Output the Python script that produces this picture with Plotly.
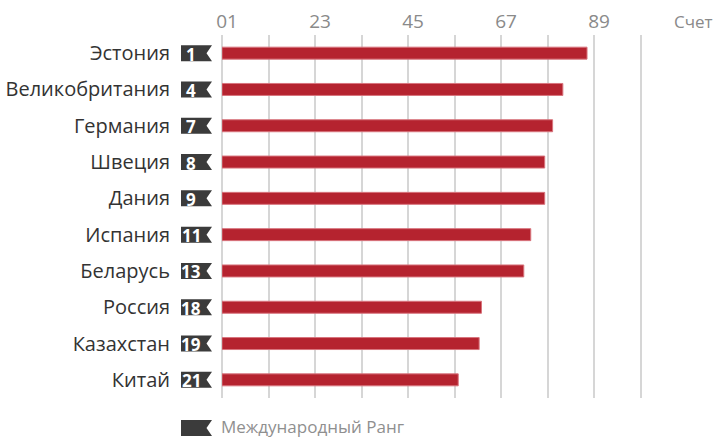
import plotly.graph_objects as go

countries = ["Эстония", "Великобритания", "Германия", "Швеция", "Дания",
             "Испания", "Беларусь", "Россия", "Казахстан", "Китай"]
ranks = [1, 4, 7, 8, 9, 11, 13, 18, 19, 21]
scores = [78.5, 73.3, 71.1, 69.4, 69.4, 66.4, 64.9, 55.8, 55.3, 50.8]

grid_vals = [0, 10, 20, 30, 40, 50, 60, 70, 80, 90]
grid_text = ["01", "", "23", "", "45", "", "67", "", "89", ""]
axis_title = "Счет"
legend_text = "Международный Ранг"

BAR = "#b5232f"
BADGE = "#3b3b3b"
FONT = "Open Sans"

fig = go.Figure()
fig.add_trace(go.Bar(
    x=scores, y=countries, orientation="h", width=0.33,
    marker=dict(color=BAR, line=dict(color="#d8747d", width=1)),
    hoverinfo="x+y",
))

badge_path = "M -41,8 L -10,8 L -15.5,0 L -10,-8 L -41,-8 Z"
shapes = []
annotations = []
for i, (c, r) in enumerate(zip(countries, ranks)):
    shapes.append(dict(type="path", xref="paper", yref="y",
                       xsizemode="pixel", ysizemode="pixel",
                       xanchor=0, yanchor=i, path=badge_path,
                       fillcolor=BADGE, line=dict(width=0), layer="above"))
    annotations.append(dict(xref="paper", yref="y", x=0, y=c, xshift=-31,
                            yshift=-1,
                            text=f"<b>{r}</b>", showarrow=False,
                            font=dict(family=FONT, size=17, color="white"),
                            xanchor="center", yanchor="middle"))

# legend badge
shapes.append(dict(type="path", xref="paper", yref="paper",
                   xsizemode="pixel", ysizemode="pixel",
                   xanchor=0, yanchor=0,
                   path="M -41,-22 L -10,-22 L -15.5,-30 L -10,-38 L -41,-38 Z",
                   fillcolor=BADGE, line=dict(width=0)))
annotations.append(dict(xref="paper", yref="paper", x=0, y=0, xshift=-3, yshift=-28,
                        text=legend_text, showarrow=False,
                        font=dict(family=FONT, size=17, color="#8f8f8f"),
                        xanchor="left", yanchor="middle"))
annotations.append(dict(xref="paper", yref="paper", x=1.015, y=1, yshift=14,
                        text=axis_title, showarrow=False,
                        font=dict(family=FONT, size=17, color="#8a8a8a"),
                        xanchor="center", yanchor="middle"))

fig.update_layout(
    width=715, height=438,
    margin=dict(l=222, r=28, t=35, b=40),
    paper_bgcolor="white", plot_bgcolor="white",
    showlegend=False,
    shapes=shapes, annotations=annotations,
    bargap=0.67,
)
fig.update_xaxes(
    side="top", range=[0, 100], automargin=False,
    tickvals=grid_vals, ticktext=grid_text,
    showgrid=True, gridcolor="#d6d6d6", gridwidth=2,
    zeroline=True, zerolinecolor="#d6d6d6", zerolinewidth=2,
    showline=False, ticks="", ticklabelstandoff=2,
    tickfont=dict(family=FONT, size=19, color="#8a8a8a"),
    ticklabelshift=5,
)
fig.update_yaxes(
    categoryorder="array", categoryarray=countries, autorange="reversed",
    automargin=False,
    showgrid=False, zeroline=False, showline=False,
    ticks="outside", ticklen=47, tickcolor="rgba(0,0,0,0)",
    tickfont=dict(family=FONT, size=20, color="#333333"),
)

fig.write_html(
    "out.html",
    config={"displayModeBar": False},
    post_script="document.documentElement.style.margin='0';"
                "document.body.style.margin='0';"
                "document.body.style.overflow='hidden';",
)
